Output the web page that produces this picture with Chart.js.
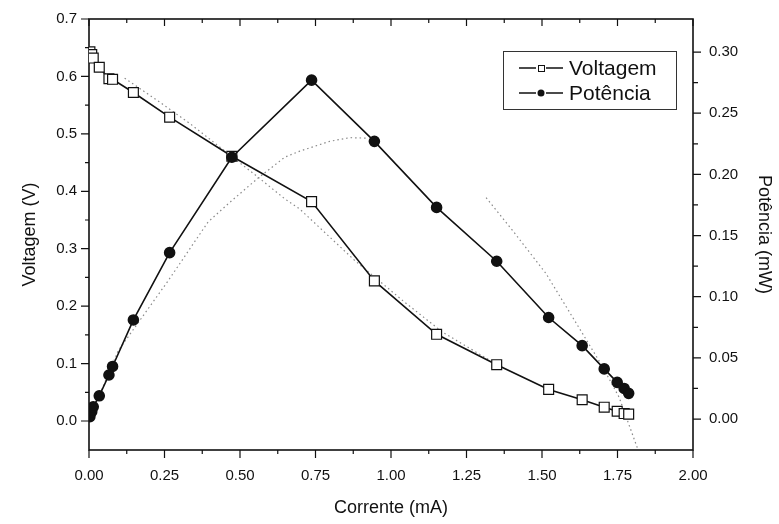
<!DOCTYPE html>
<html>
<head>
<meta charset="utf-8">
<script src="https://cdn.jsdelivr.net/npm/chart.js@4.4.0/dist/chart.umd.min.js"></script>
<style>
  html, body { margin: 0; padding: 0; background: #fff; }
</style>
</head>
<body>
<canvas id="myChart" width="779" height="524"></canvas>
<script>
const corrente = [0.003, 0.009, 0.014, 0.034, 0.066, 0.078, 0.147, 0.267, 0.473, 0.737, 0.945, 1.151, 1.350, 1.522, 1.633, 1.706, 1.749, 1.772, 1.787];
const voltagem = [0.643, 0.638, 0.632, 0.616, 0.596, 0.595, 0.572, 0.529, 0.461, 0.382, 0.244, 0.151, 0.098, 0.055, 0.037, 0.024, 0.017, 0.013, 0.012];
const potencia = [0.002, 0.006, 0.010, 0.019, 0.036, 0.043, 0.081, 0.136, 0.214, 0.277, 0.227, 0.173, 0.129, 0.083, 0.060, 0.041, 0.030, 0.025, 0.021];

// curvas pontilhadas (ajuste)
const ajusteVoltX = [0.118, 0.224, 0.334, 0.554, 0.648, 0.698, 0.879, 1.045, 1.170, 1.326];
const ajusteVoltY = [0.597, 0.559, 0.518, 0.427, 0.387, 0.369, 0.280, 0.207, 0.155, 0.106];
const ajustePotX1 = [0.030, 0.097, 0.262, 0.394, 0.461, 0.560, 0.648, 0.698, 0.797, 0.863, 0.922];
const ajustePotY1 = [0.017, 0.056, 0.113, 0.161, 0.176, 0.197, 0.214, 0.219, 0.227, 0.230, 0.2296];
const ajustePotX2 = [1.315, 1.403, 1.513, 1.634, 1.700, 1.755, 1.825];
const ajustePotY2 = [0.181, 0.154, 0.119, 0.070, 0.043, 0.018, -0.030];

const xTicks = [0, 0.25, 0.5, 0.75, 1.0, 1.25, 1.5, 1.75, 2.0];
const vTicks = [0.0, 0.1, 0.2, 0.3, 0.4, 0.5, 0.6, 0.7];
const pTicks = [0.00, 0.05, 0.10, 0.15, 0.20, 0.25, 0.30];

const pares = (xs, ys) => xs.map((x, i) => ({ x: x, y: ys[i] }));
const fonte = "'Liberation Sans', Arial, sans-serif";

// moldura + marcas de escala no estilo Origin
const eixos = {
  id: 'eixos',
  beforeDatasetsDraw(chart) {
    const { ctx, chartArea: a, scales } = chart;
    const meios = (arr) => arr.slice(1).map((v, i) => (v + arr[i]) / 2);
    ctx.save();
    ctx.strokeStyle = '#111';
    ctx.lineWidth = 1.2;
    ctx.beginPath();
    const linha = (x1, y1, x2, y2) => { ctx.moveTo(x1, y1); ctx.lineTo(x2, y2); };
    xTicks.forEach(v => {
      const px = scales.x.getPixelForValue(v);
      linha(px, a.bottom, px, a.bottom + 8);
      linha(px, a.top, px, a.top + 7);
    });
    meios(xTicks).forEach(v => {
      const px = scales.x.getPixelForValue(v);
      linha(px, a.bottom, px, a.bottom + 4);
      linha(px, a.top, px, a.top + 4);
    });
    vTicks.forEach(v => { const py = scales.yV.getPixelForValue(v); linha(a.left - 8, py, a.left, py); });
    meios(vTicks).forEach(v => { const py = scales.yV.getPixelForValue(v); linha(a.left - 4, py, a.left, py); });
    pTicks.forEach(v => { const py = scales.yP.getPixelForValue(v); linha(a.right, py, a.right + 8, py); });
    meios(pTicks).forEach(v => { const py = scales.yP.getPixelForValue(v); linha(a.right, py, a.right + 5, py); });
    ctx.stroke();
    ctx.lineWidth = 1.6;
    ctx.strokeRect(a.left, a.top, a.right - a.left, a.bottom - a.top);
    ctx.restore();
  }
};

// legenda com caixa dentro do gráfico
const legenda = {
  id: 'legenda',
  afterDraw(chart) {
    const { ctx } = chart;
    ctx.save();
    ctx.strokeStyle = '#333';
    ctx.lineWidth = 1;
    ctx.strokeRect(503.5, 51.5, 173, 58);
    const itens = [chart.data.datasets[1], chart.data.datasets[0]];
    itens.forEach((ds, i) => {
      const y = 68 + i * 25;
      ctx.strokeStyle = '#111';
      ctx.lineWidth = 1.5;
      ctx.beginPath();
      ctx.moveTo(519, y); ctx.lineTo(536, y);
      ctx.moveTo(546, y); ctx.lineTo(563, y);
      ctx.stroke();
      ctx.lineWidth = 1;
      if (ds.pointStyle === 'rect') {
        ctx.fillStyle = '#fff';
        ctx.fillRect(538, y - 3, 6, 6);
        ctx.strokeRect(538.5, y - 2.5, 6, 6);
      } else {
        ctx.fillStyle = '#111';
        ctx.beginPath();
        ctx.arc(541, y, 3.5, 0, Math.PI * 2);
        ctx.fill();
      }
      ctx.fillStyle = '#111';
      ctx.font = '21px ' + fonte;
      ctx.textBaseline = 'middle';
      ctx.fillText(ds.label, 569, y + 1);
    });
    ctx.restore();
  }
};

const semSobra = (s) => { s.paddingTop = 0; s.paddingBottom = 0; };

const myChart = new Chart(document.getElementById('myChart'), {
  type: 'scatter',
  data: {
    datasets: [
      {
        label: 'Potência',
        data: pares(corrente, potencia),
        yAxisID: 'yP',
        showLine: true,
        borderColor: '#111',
        borderWidth: 1.6,
        pointStyle: 'circle',
        pointRadius: 5,
        pointBackgroundColor: '#111',
        pointBorderColor: '#111',
        order: 0
      },
      {
        label: 'Voltagem',
        data: pares(corrente, voltagem),
        yAxisID: 'yV',
        showLine: true,
        borderColor: '#111',
        borderWidth: 1.6,
        pointStyle: 'rect',
        pointRadius: 7,
        pointBackgroundColor: '#fff',
        pointBorderColor: '#111',
        pointBorderWidth: 1.2,
        order: 1
      },
      {
        label: 'ajuste V',
        data: pares(ajusteVoltX, ajusteVoltY),
        yAxisID: 'yV',
        showLine: true,
        borderColor: '#8a8a8a',
        borderWidth: 1.2,
        borderDash: [1.5, 3],
        pointRadius: 0,
        order: 2
      },
      {
        label: 'ajuste P1',
        data: pares(ajustePotX1, ajustePotY1),
        yAxisID: 'yP',
        showLine: true,
        borderColor: '#8a8a8a',
        borderWidth: 1.2,
        borderDash: [1.5, 3],
        pointRadius: 0,
        order: 2
      },
      {
        label: 'ajuste P2',
        data: pares(ajustePotX2, ajustePotY2),
        yAxisID: 'yP',
        showLine: true,
        borderColor: '#8a8a8a',
        borderWidth: 1.2,
        borderDash: [1.5, 3],
        pointRadius: 0,
        order: 2
      }
    ]
  },
  options: {
    responsive: false,
    animation: false,
    events: [],
    layout: { padding: { top: 19, left: 0, right: 0, bottom: 0 } },
    plugins: {
      legend: { display: false },
      tooltip: { enabled: false }
    },
    scales: {
      x: {
        type: 'linear',
        position: 'bottom',
        min: 0, max: 2,
        grid: { display: false, drawTicks: false },
        border: { display: false },
        afterBuildTicks: (s) => { s.ticks = xTicks.map(v => ({ value: v })); },
        afterFit: (s) => { s.height = 74; },
        ticks: {
          padding: 17,
          maxRotation: 0,
          color: '#111',
          font: { size: 15, family: fonte },
          callback: (v) => v.toFixed(2)
        },
        title: {
          display: true,
          text: 'Corrente (mA)',
          color: '#111',
          font: { size: 18, family: fonte },
          padding: { top: 0, bottom: 5 }
        }
      },
      yV: {
        type: 'linear',
        position: 'left',
        min: -0.0505, max: 0.7,
        grid: { display: false, drawTicks: false },
        border: { display: false },
        afterBuildTicks: (s) => { s.ticks = vTicks.map(v => ({ value: v })); },
        afterFit: (s) => { s.width = 89; semSobra(s); },
        ticks: {
          padding: 12,
          color: '#111',
          font: { size: 15, family: fonte },
          callback: (v) => v.toFixed(1)
        },
        title: {
          display: true,
          text: 'Voltagem (V)',
          color: '#111',
          font: { size: 18, family: fonte },
          padding: { top: 19, bottom: 0 }
        }
      },
      yP: {
        type: 'linear',
        position: 'right',
        min: -0.0253, max: 0.327,
        grid: { display: false, drawTicks: false },
        border: { display: false },
        afterBuildTicks: (s) => { s.ticks = pTicks.map(v => ({ value: v })); },
        afterFit: (s) => { s.width = 86; semSobra(s); },
        ticks: {
          padding: 16,
          color: '#111',
          font: { size: 15, family: fonte },
          callback: (v) => v.toFixed(2)
        },
        title: {
          display: true,
          text: 'Potência (mW)',
          color: '#111',
          font: { size: 18, family: fonte },
          padding: { top: 4, bottom: 0 }
        }
      }
    }
  },
  plugins: [eixos, legenda]
});
</script>
</body>
</html>
